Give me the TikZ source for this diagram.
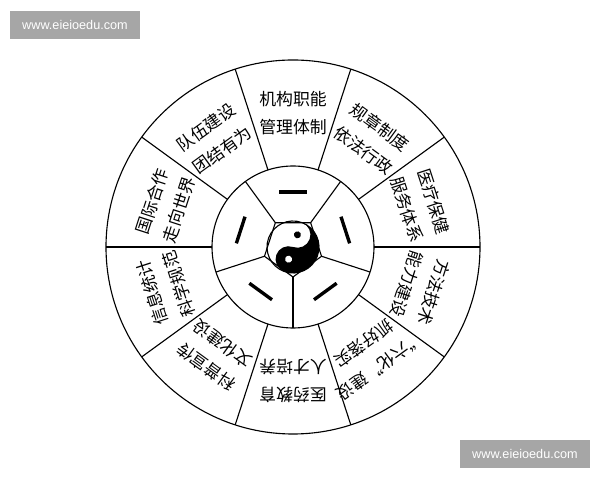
\documentclass[tikz,border=0pt]{standalone}
\usepackage{fontspec}
\setmainfont{Liberation Sans}
\newfontfamily\cjk{Noto Sans CJK SC}
\usepackage{tikz}
\usetikzlibrary{calc}

\begin{document}
\begin{tikzpicture}[x=0.025cm,y=0.025cm]
\tikzset{ring/.style={draw,thick},
         ringtext/.style={font=\cjk\fontsize{12}{20}\selectfont,align=center,inner sep=0pt},
         yao/.style={line width=2.4pt},
         watermark/.style={fill=gray!70,text=white,font=\fontsize{9}{10}\selectfont,
            minimum width=3.25cm,minimum height=0.7cm,inner sep=0pt}}
\useasboundingbox (0,0) rectangle (600,480);
\coordinate (c) at (293,233);
% outer ring
\draw[ring] (c) circle (187);
\draw[ring,fill=white] (c) circle (81);
\foreach \a in {0,36,...,324}
    \draw[ring] ($(c)+(\a:81)$) -- ($(c)+(\a:187)$);
% pentagon
\draw[ring] ($(c)+(270:30)$) \foreach \a in {342,54,126,198} { -- ($(c)+(\a:30)$) } -- cycle;
\foreach \a in {270,342,54,126,198}
    \draw[ring] ($(c)+(\a:30)$) -- ($(c)+(\a:81)$);
\foreach \a in {90,18,306,234,162}
    \draw[yao] ($(c)+(\a:55)+(\a+90:14)$) -- ($(c)+(\a:55)+(\a-90:14)$);
% yin yang
\begin{scope}[shift={(c)},rotate=-20]
\draw[thick] (0,0) circle (26);
\fill (0,26) arc[start angle=90,end angle=-90,radius=26]
    arc[start angle=-90,end angle=-270,radius=13]
    arc[start angle=-90,end angle=90,radius=13] -- cycle;
\fill (0,13) circle (3.5);
\fill[white] (0,-13) circle (3.5);
\end{scope}
% sector texts
\foreach \a/\t in {90/{机构职能\\管理体制},54/{规章制度\\依法行政},18/{医疗保健\\服务体系},
    -18/{方法技术\\能力建设},-54/{“六化”建设\\抓好落实},-90/{医药教育\\人才培养},
    -126/{科普宣传\\文化建设},-162/{信息统计\\科学规范},162/{国际合作\\走向世界},
    126/{队伍建设\\团结有为}}
    \node[ringtext,rotate=\a-90] at ($(c)+(\a:134)$) {\t};
% watermarks
\node[watermark] (wm1) at (75,455) {www.eieioedu.com};
\node[watermark] (wm2) at (525,26) {www.eieioedu.com};
\end{tikzpicture}
\end{document}
